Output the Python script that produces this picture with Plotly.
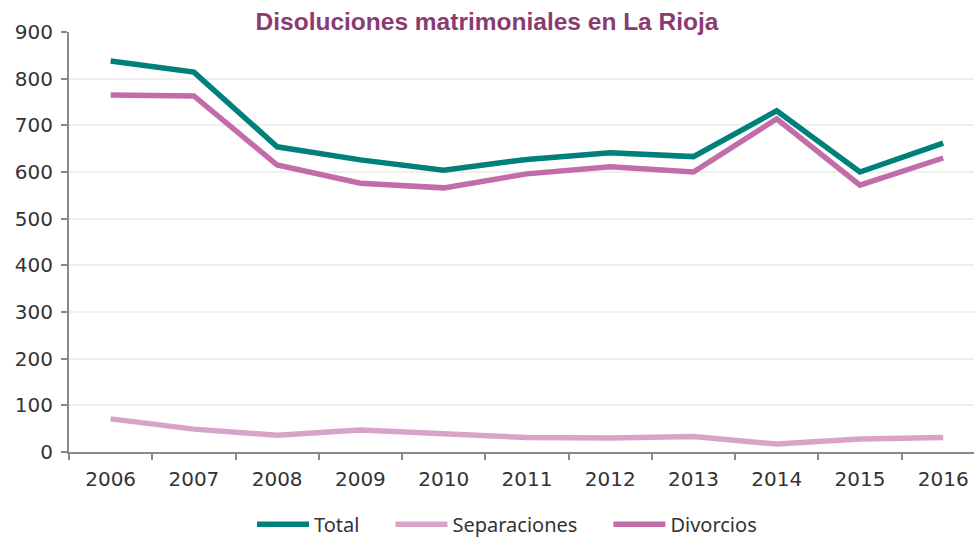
import plotly.graph_objects as go

years = ["2006", "2007", "2008", "2009", "2010", "2011", "2012", "2013", "2014", "2015", "2016"]
total = [838, 814, 654, 626, 604, 627, 641, 633, 731, 600, 662]
separaciones = [71, 49, 36, 47, 39, 31, 30, 33, 17, 28, 31]
divorcios = [765, 763, 615, 576, 566, 596, 611, 600, 714, 572, 630]
y_ticks = [0, 100, 200, 300, 400, 500, 600, 700, 800, 900]

pad = "\u00a0" * 5
series = [
    ("Total" + pad, total, "#00807b"),
    ("Separaciones" + pad, separaciones, "#d9a3c9"),
    ("Divorcios", divorcios, "#c26ca9"),
]

fig = go.Figure()
for name, vals, color in series:
    fig.add_trace(go.Scatter(x=years, y=vals, mode="lines", name=name,
                             line=dict(color=color, width=5.5)))

fig.update_layout(
    width=974, height=540,
    margin=dict(l=69, r=0, t=32, b=88, autoexpand=False),
    paper_bgcolor="white", plot_bgcolor="white",
    font=dict(family="DejaVu Sans", size=20, color="#333333"),
    title=dict(text="<b>Disoluciones matrimoniales en La Rioja</b>",
               x=0.5, xanchor="center", y=0.96, yanchor="middle",
               font=dict(family="Liberation Sans", size=24.5, color="#8b3a72")),
    legend=dict(orientation="h", x=0.484, xanchor="center", y=-0.172, yanchor="middle",
                font=dict(family="Noto Sans", size=20, color="#333333"), itemwidth=52),
    showlegend=True,
)

fig.update_xaxes(type="category", range=[-0.5, 10.37], showline=True, linecolor="#898989",
                 linewidth=2, ticks="outside", tickson="boundaries", ticklen=6,
                 tickcolor="#898989", tickwidth=2, showgrid=False, ticklabelstandoff=8,
                 automargin=False)
fig.update_yaxes(range=[0, 900], tickvals=y_ticks, showline=True, linecolor="#898989",
                 linewidth=2, ticks="outside", ticklen=6, tickcolor="#898989", tickwidth=2,
                 showgrid=True, gridcolor="#efefef", gridwidth=2, zeroline=False,
                 ticklabelstandoff=4, automargin=False)

# the page's default body margin would push the chart off the window
fig.write_html("out.html", config={"displayModeBar": False},
               post_script="document.body.style.margin='0';")
